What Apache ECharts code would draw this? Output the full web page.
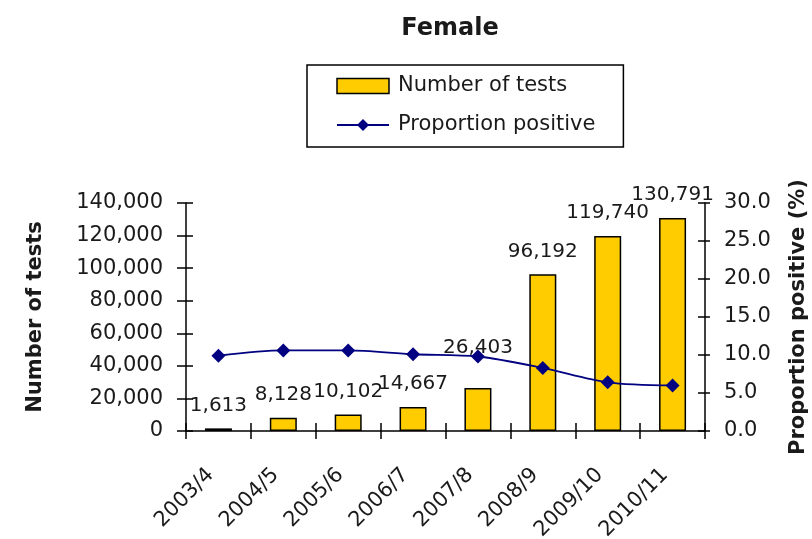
<!DOCTYPE html>
<html>
<head>
<meta charset="utf-8">
<script src="https://cdn.jsdelivr.net/npm/echarts@6/dist/echarts.min.js"></script>
<style>
html,body{margin:0;padding:0;background:#fff;}
#chart{width:812px;height:539px;}
</style>
</head>
<body>
<div id="chart"></div>
<script>
var categories = ['2003/4','2004/5','2005/6','2006/7','2007/8','2008/9','2009/10','2010/11'];
var numberOfTests = [1613, 8128, 10102, 14667, 26403, 96192, 119740, 130791];
var proportionPositive = [9.9, 10.6, 10.6, 10.1, 9.8, 8.3, 6.4, 6.0];
var leftTicks = {min: 0, max: 140000, interval: 20000};
var rightTicks = {min: 0, max: 30, interval: 5};

var FONT = '"DejaVu Sans", sans-serif';
var TXT = '#1a1a1a';

var chart = echarts.init(document.getElementById('chart'), null, {renderer: 'canvas'});

var barData = numberOfTests.map(function (v, i) {
  var d = {value: v};
  if (categories[i] === '2007/8') {
    d.label = {distance: 30};
  }
  return d;
});

var option = {
  backgroundColor: '#ffffff',
  animation: false,
  title: {
    text: 'Female',
    left: 445,
    textAlign: 'center',
    top: 12,
    textStyle: {fontFamily: FONT, fontSize: 24, fontWeight: 'bold', color: TXT}
  },
  legend: {
    orient: 'vertical',
    left: 307,
    top: 65,
    padding: [9, 28, 10, 29],
    itemGap: 15,
    itemWidth: 52,
    itemHeight: 15,
    borderColor: '#000',
    borderWidth: 1.5,
    align: 'left',
    textStyle: {fontFamily: FONT, fontSize: 21, color: TXT, lineHeight: 24, padding: [0, 0, 0, 4]},
    data: [
      {name: 'Number of tests', icon: 'rect', itemStyle: {color: '#FFCC00', borderColor: '#000', borderWidth: 1.5}},
      {name: 'Proportion positive'}
    ]
  },
  grid: {left: 186, right: 107, top: 203, bottom: 108, containLabel: false, outerBoundsMode: 'none'},
  xAxis: [
    {
      type: 'category',
      data: categories,
      position: 'bottom',
      axisLine: {show: true, lineStyle: {color: '#000', width: 1.5}},
      axisTick: {show: true, length: 8, inside: false, lineStyle: {color: '#000', width: 1.5}},
      axisLabel: {rotate: 45, margin: 33, padding: [0, 11, 0, 0], fontFamily: FONT, fontSize: 21, color: TXT, interval: 0},
      splitLine: {show: false}
    },
    {
      type: 'category',
      data: categories,
      position: 'bottom',
      axisLine: {show: false},
      axisTick: {show: true, length: 8, inside: true, lineStyle: {color: '#000', width: 1.5}},
      axisLabel: {show: false},
      splitLine: {show: false}
    }
  ],
  yAxis: [
    {
      type: 'value',
      position: 'left',
      min: leftTicks.min, max: leftTicks.max, interval: leftTicks.interval,
      name: 'Number of tests',
      nameLocation: 'middle',
      nameRotate: 90,
      nameGap: 140,
      nameTextStyle: {fontFamily: FONT, fontSize: 21, fontWeight: 'bold', color: TXT},
      axisLine: {show: true, lineStyle: {color: '#000', width: 1.5}},
      axisTick: {show: true, length: 9, lineStyle: {color: '#000', width: 1.5}},
      axisLabel: {
        margin: 23, fontFamily: FONT, fontSize: 21, color: TXT,
        formatter: function (v) { return v.toLocaleString('en-US'); }
      },
      splitLine: {show: false}
    },
    {
      type: 'value',
      position: 'right',
      min: rightTicks.min, max: rightTicks.max, interval: rightTicks.interval,
      name: 'Proportion positive (%)',
      nameLocation: 'middle',
      nameRotate: 90,
      nameGap: 83,
      nameTextStyle: {fontFamily: FONT, fontSize: 21, fontWeight: 'bold', color: TXT},
      axisLine: {show: true, lineStyle: {color: '#000', width: 1.5}},
      axisTick: {show: true, length: 5, lineStyle: {color: '#000', width: 1.5}},
      axisLabel: {
        margin: 19, fontFamily: FONT, fontSize: 21, color: TXT,
        formatter: function (v) { return v.toFixed(1); }
      },
      splitLine: {show: false}
    },
    {
      type: 'value',
      position: 'left',
      min: leftTicks.min, max: leftTicks.max, interval: leftTicks.interval,
      axisLine: {show: false},
      axisTick: {show: true, inside: true, length: 7, lineStyle: {color: '#000', width: 1.5}},
      axisLabel: {show: false},
      splitLine: {show: false}
    },
    {
      type: 'value',
      position: 'right',
      min: rightTicks.min, max: rightTicks.max, interval: rightTicks.interval,
      axisLine: {show: false},
      axisTick: {show: true, inside: true, length: 7, lineStyle: {color: '#000', width: 1.5}},
      axisLabel: {show: false},
      splitLine: {show: false}
    }
  ],
  series: [
    {
      name: 'Number of tests',
      type: 'bar',
      xAxisIndex: 0,
      yAxisIndex: 0,
      barWidth: 27,
      data: barData,
      itemStyle: {color: '#FFCC00', borderColor: '#000', borderWidth: 1.5},
      label: {
        show: true,
        position: 'top',
        distance: 13,
        fontFamily: FONT,
        fontSize: 20,
        color: TXT,
        formatter: function (p) { return p.value.toLocaleString('en-US'); }
      },
      z: 2
    },
    {
      name: 'Proportion positive',
      type: 'line',
      xAxisIndex: 0,
      yAxisIndex: 1,
      data: proportionPositive,
      smooth: 0.3,
      symbol: 'diamond',
      symbolSize: 14,
      lineStyle: {color: '#000080', width: 1.8},
      itemStyle: {color: '#000080'},
      z: 3
    }
  ]
};

chart.setOption(option);
</script>
</body>
</html>
